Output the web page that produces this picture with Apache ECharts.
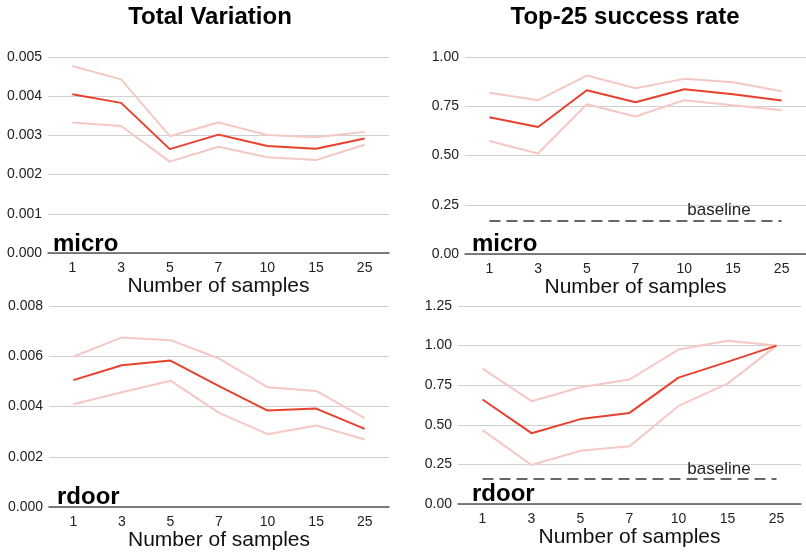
<!DOCTYPE html>
<html>
<head>
<meta charset="utf-8">
<script src="https://cdn.jsdelivr.net/npm/echarts@6/dist/echarts.min.js"></script>
<style>html,body{margin:0;padding:0;background:#fff}#c{width:806px;height:552px}</style>
</head>
<body>
<div id="c"></div>
<script>
const categories = ['1','3','5','7','10','15','25'];

const tvMicroMean  = [0.00405,0.00383,0.00265,0.00302,0.00273,0.00266,0.00292];
const tvMicroUpper = [0.00477,0.00443,0.00298,0.00333,0.00301,0.00295,0.00309];
const tvMicroLower = [0.00333,0.00324,0.00233,0.00271,0.00244,0.00237,0.00276];

const tvRdoorMean  = [0.00505,0.00564,0.00583,0.00481,0.00384,0.00392,0.00311];
const tvRdoorUpper = [0.00598,0.00675,0.00664,0.00591,0.00477,0.00462,0.00354];
const tvRdoorLower = [0.00409,0.00457,0.00503,0.00375,0.00290,0.00325,0.00269];

const srMicroMean  = [0.694,0.645,0.831,0.770,0.836,0.811,0.779];
const srMicroUpper = [0.818,0.781,0.906,0.841,0.889,0.872,0.826];
const srMicroLower = [0.574,0.510,0.760,0.698,0.781,0.755,0.730];
const srMicroBaseline = [0.167,0.167,0.167,0.167,0.167,0.167,0.167];

const srRdoorMean  = [0.660,0.447,0.536,0.575,0.798,0.897,1.0];
const srRdoorUpper = [0.855,0.649,0.737,0.786,0.975,1.031,1.0];
const srRdoorLower = [0.466,0.246,0.336,0.365,0.619,0.760,1.0];
const srRdoorBaseline = [0.158,0.158,0.158,0.158,0.158,0.158,0.158];

const tvMicroTicks = {min:0,max:0.005,interval:0.001,digits:3};
const tvRdoorTicks = {min:0,max:0.008,interval:0.002,digits:3};
const srMicroTicks = {min:0,max:1.0,interval:0.25,digits:2};
const srRdoorTicks = {min:0,max:1.25,interval:0.25,digits:2};

const FONT = '"Liberation Sans", Arial, Helvetica, sans-serif';
const RED = '#e8402f';
const PINK = '#f5c8c4';

const grids = [
  {left:48, top:57, width:341, height:196},
  {left:465, top:57, width:342, height:197},
  {left:49, top:306, width:340, height:202},
  {left:458, top:306, width:343, height:198}
];
const ticks = [tvMicroTicks, srMicroTicks, tvRdoorTicks, srRdoorTicks];

const xAxes = grids.map((g,i)=>({
  type:'category', gridIndex:i, data:categories, boundaryGap:true,
  axisLine:{lineStyle:{color:'#555',width:1.5}},
  axisTick:{show:false},
  axisLabel:{color:'#222',fontSize:14,fontFamily:FONT,margin:8},
  name:'Number of samples', nameLocation:'middle', nameGap:18,
  nameTextStyle:{color:'#111',fontSize:21,fontFamily:FONT}
}));
const yAxes = grids.map((g,i)=>({
  type:'value', gridIndex:i, min:ticks[i].min, max:ticks[i].max, interval:ticks[i].interval,
  axisLine:{show:false}, axisTick:{show:false},
  splitLine:{lineStyle:{color:'#d0d0d0',width:1}},
  axisLabel:{color:'#222',fontSize:14,fontFamily:FONT,margin:6,
    formatter:(v)=>v.toFixed(ticks[i].digits)}
}));

function band(data,idx){return {type:'line',xAxisIndex:idx,yAxisIndex:idx,data:data,symbol:'none',
  lineStyle:{color:PINK,width:2},z:2,silent:true};}
function mean(data,idx){return {type:'line',xAxisIndex:idx,yAxisIndex:idx,data:data,symbol:'none',
  lineStyle:{color:RED,width:2},z:3,silent:true};}
function base(data,idx){return {type:'line',xAxisIndex:idx,yAxisIndex:idx,data:data,symbol:'none',
  lineStyle:{color:'#666',width:2,type:[11,6]},z:3,silent:true};}

const series = [
  band(tvMicroUpper,0), band(tvMicroLower,0), mean(tvMicroMean,0),
  band(srMicroUpper,1), band(srMicroLower,1), mean(srMicroMean,1), base(srMicroBaseline,1),
  band(tvRdoorUpper,2), band(tvRdoorLower,2), mean(tvRdoorMean,2),
  band(srRdoorUpper,3), band(srRdoorLower,3), mean(srRdoorMean,3), base(srRdoorBaseline,3)
];

const boldText = {fontSize:24,fontWeight:'bold',color:'#000',fontFamily:FONT};
const baseText = {fontSize:17,fontWeight:'normal',color:'#222',fontFamily:FONT};
const titles = [
  {text:'Total Variation', left:205, top:0, textAlign:'center', textStyle:boldText},
  {text:'Top-25 success rate', left:620, top:0, textAlign:'center', textStyle:boldText},
  {text:'micro', left:48, top:227, textStyle:boldText},
  {text:'micro', left:467, top:227, textStyle:boldText},
  {text:'rdoor', left:52, top:480, textStyle:boldText},
  {text:'rdoor', left:467, top:477, textStyle:boldText},
  {text:'baseline', left:714, top:197, textAlign:'center', textStyle:baseText},
  {text:'baseline', left:714, top:456, textAlign:'center', textStyle:baseText}
];

const chart = echarts.init(document.getElementById('c'),null,{renderer:'canvas'});
chart.setOption({
  animation:false,
  backgroundColor:'#fff',
  title:titles,
  grid:grids,
  xAxis:xAxes,
  yAxis:yAxes,
  series:series
});
</script>
</body>
</html>
